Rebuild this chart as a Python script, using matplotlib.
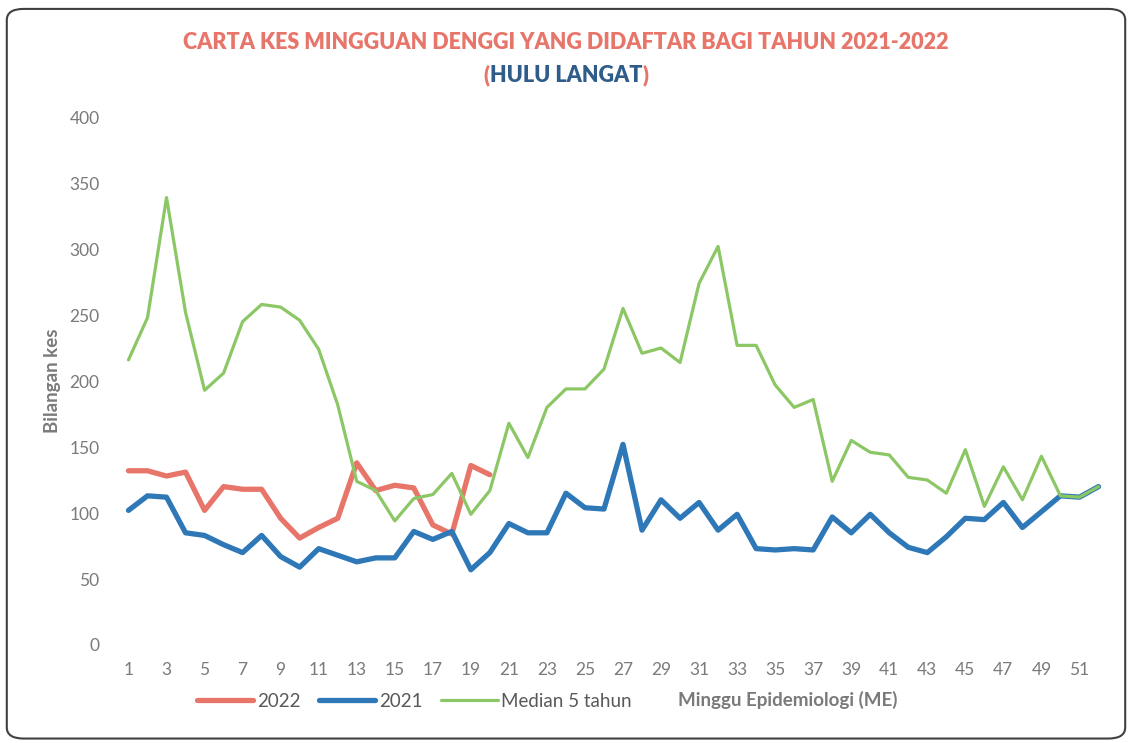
import matplotlib.pyplot as plt
from matplotlib.patches import FancyBboxPatch

# weekly dengue cases, Hulu Langat
weeks = list(range(1, 53))
cases_2022 = [132, 132, 128, 131, 102, 120, 118, 118, 96, 81,
              89, 96, 138, 117, 121, 119, 91, 84, 136, 129]
cases_2021 = [102, 113, 112, 85, 83, 76, 70, 83, 67, 59,
              73, 68, 63, 66, 66, 86, 80, 86, 57, 70,
              92, 85, 85, 115, 104, 103, 152, 87, 110, 96,
              108, 87, 99, 73, 72, 73, 72, 97, 85, 99,
              85, 74, 70, 82, 96, 95, 108, 89, 101, 113,
              112, 120]
median_5y = [216, 248, 339, 252, 193, 206, 245, 258, 256, 246,
             224, 182, 124, 117, 94, 111, 114, 130, 99, 117,
             168, 142, 180, 194, 194, 209, 255, 221, 225, 214,
             274, 302, 227, 227, 197, 180, 186, 124, 155, 146,
             144, 127, 125, 115, 148, 105, 135, 110, 143, 113,
             112, 120]
yticks = [0, 50, 100, 150, 200, 250, 300, 350, 400]
xticks = list(range(1, 53, 2))

red = '#E8756A'
blue = '#2E78B8'
green = '#8CC766'
grey = '#7A7A7A'

plt.rcParams['font.family'] = ['Lato', 'DejaVu Sans']

fig = plt.figure(figsize=(11.32, 7.43), dpi=100)
ax = fig.add_axes([0.1051, 0.1319, 0.8737, 0.7106])

l1, = ax.plot(weeks[:len(cases_2022)], cases_2022, color=red, lw=3.8,
              solid_capstyle='round', label='2022', zorder=2)
l2, = ax.plot(weeks, cases_2021, color=blue, lw=3.8,
              solid_capstyle='round', label='2021', zorder=3)
l3, = ax.plot(weeks, median_5y, color=green, lw=2.3,
              solid_capstyle='round', label='Median 5 tahun', zorder=4)

ax.set_xlim(0.5, 52.5)
ax.set_ylim(0, 400)
ax.set_xticks(xticks)
ax.set_yticks(yticks)
ax.tick_params(length=0, labelsize=12.5, labelcolor=grey)
ax.tick_params(axis='y', pad=14)
ax.tick_params(axis='x', pad=12)
for s in ax.spines.values():
    s.set_visible(False)

ax.set_ylabel('Bilangan kes', fontsize=13.5, fontweight='bold', color=grey,
              labelpad=6)

# title, two colours in the second line
title_kw = dict(va='center', fontsize=15.5, fontweight='heavy')
fig.text(0.5, 0.943, 'CARTA KES MINGGUAN DENGGI YANG DIDAFTAR BAGI TAHUN 2021-2022',
         ha='center', color=red, **title_kw)
mid = fig.text(0.5, 0.899, 'HULU LANGAT', ha='center', color='#2F5C8A',
               **title_kw)
fig.canvas.draw()
bb = mid.get_window_extent(fig.canvas.get_renderer())
fig.text(bb.x0 / fig.bbox.width, 0.899, '(', ha='right', color=red, **title_kw)
fig.text(bb.x1 / fig.bbox.width, 0.899, ')', ha='left', color=red, **title_kw)

leg = fig.legend(handles=[l1, l2, l3], loc='center left',
                 bbox_to_anchor=(0.159, 0.056), ncol=3, frameon=False,
                 fontsize=13.5, handlelength=3.0, handletextpad=0.2,
                 columnspacing=1.0)
for t in leg.get_texts():
    t.set_color('#595959')
fig.text(0.696, 0.058, 'Minggu Epidemiologi (ME)', ha='center', va='center',
         fontsize=13.5, fontweight='bold', color=grey)

# rounded frame around the chart
frame = FancyBboxPatch((0.006, 0.006), 0.988, 0.982,
                       boxstyle='round,pad=0,rounding_size=0.015',
                       transform=fig.transFigure, fill=False,
                       edgecolor='#404040', lw=1.5)
fig.patches.append(frame)

fig.savefig('out.png', dpi=100)
